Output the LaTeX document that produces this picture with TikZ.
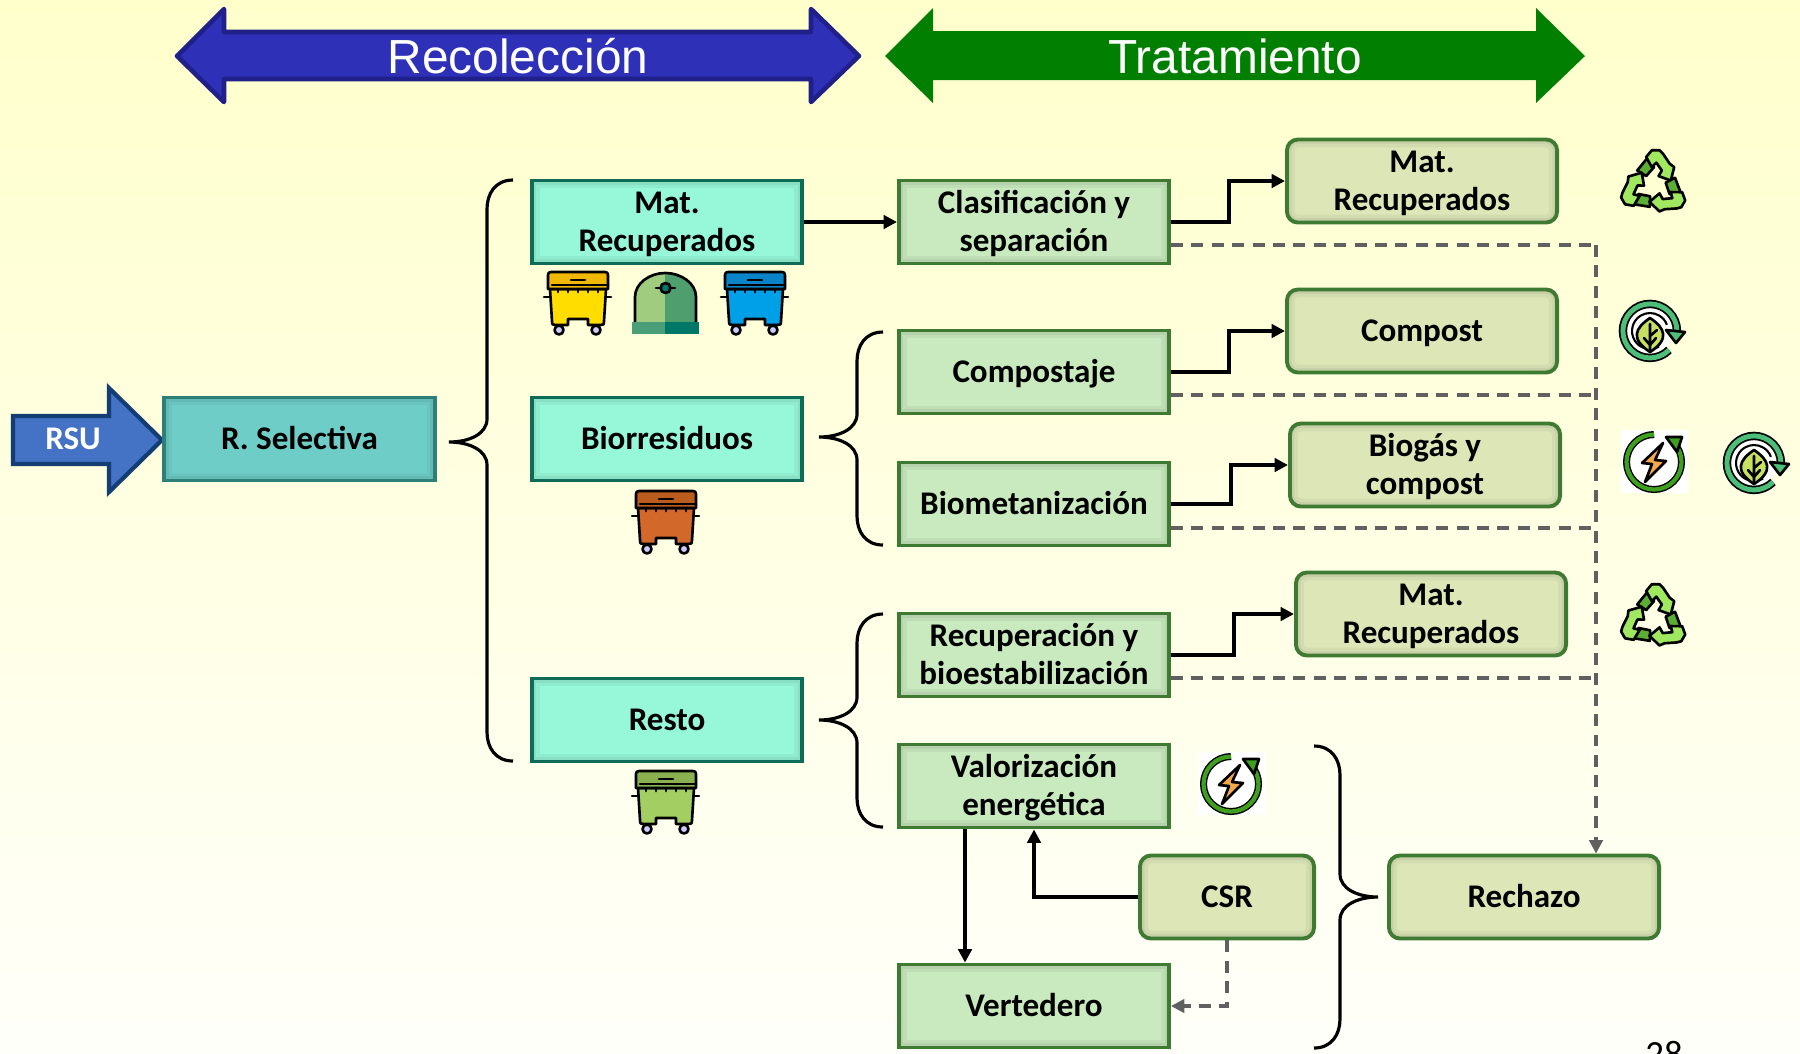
\documentclass[tikz,border=0pt]{standalone}
\usepackage{fontspec}
\setmainfont{Carlito}
\newfontfamily\titlefont{Liberation Sans}
\usetikzlibrary{arrows.meta}
\definecolor{bgtop}{HTML}{FFFFCC}
\definecolor{bgbot}{HTML}{FFFFFA}
\definecolor{tealfill}{HTML}{96F7D9}
\definecolor{tealline}{HTML}{0E6B55}
\definecolor{selfill}{HTML}{6FCDC8}
\definecolor{selline}{HTML}{2E7F78}
\definecolor{procfill}{HTML}{C9E9BF}
\definecolor{greenline}{HTML}{3F7A32}
\definecolor{resfill}{HTML}{DCE6B7}
\definecolor{dashgray}{HTML}{606060}
\definecolor{rsufill}{HTML}{4472C4}
\definecolor{rsuline}{HTML}{123E73}
\definecolor{recofill}{HTML}{2E30B8}
\definecolor{recoline}{HTML}{20208A}
\definecolor{tratfill}{HTML}{007F00}
\definecolor{iglooleft}{HTML}{A0CC80}
\definecolor{iglooright}{HTML}{4E9E6E}
\definecolor{baseleft}{HTML}{4A9E78}
\definecolor{baseright}{HTML}{007868}
\definecolor{recyclelight}{HTML}{9FE860}
\definecolor{recycledark}{HTML}{5BAE33}
\definecolor{leafring}{HTML}{4CBE78}
\definecolor{leaffill}{HTML}{C8E060}
\definecolor{boltring}{HTML}{3FA020}
\definecolor{boltfill}{HTML}{F5A84A}
\definecolor{binyellow}{HTML}{FFDD00}
\definecolor{binyellowlid}{HTML}{F0B800}
\definecolor{binblue}{HTML}{00A0E8}
\definecolor{binbluelid}{HTML}{0A84C8}
\definecolor{binorange}{HTML}{D2692A}
\definecolor{binorangelid}{HTML}{B95C1E}
\definecolor{bingreen}{HTML}{A3CF62}
\definecolor{bingreenlid}{HTML}{8BB04F}
\newcommand{\curlypath}[4]{
	\draw[line width=0.9pt] (#1) .. controls +({#2*18},0) and +(0,15) .. ++({#2*26},-29) -- ++(0,-#3) .. controls +(0,-15) and +({-#2*20},0) .. ++({#2*38},-23) .. controls +({-#2*20},0) and +(0,15) .. ++({-#2*38},-23) -- ++(0,-#4) .. controls +(0,-15) and +({#2*18},0) .. ++({-#2*26},-29);
}
\tikzset{
	x=0.01cm,y=0.01cm,
	every node/.style={font=\fontsize{9.4}{10.8}\selectfont\bfseries,align=center,inner sep=0pt},
	sizedbox/.style={draw,line width=1.1pt,minimum width=2.7cm,minimum height=0.83cm,text height=5.8pt,text depth=0pt,
		path picture={
			\draw[line width=4.5pt,black,opacity=0.045] (path picture bounding box.south west) rectangle (path picture bounding box.north east);
			\draw[line width=2.5pt,black,opacity=0.05] (path picture bounding box.south west) rectangle (path picture bounding box.north east);
		}},
	twolines/.style={text height=16.6pt},
	collectbox/.style={sizedbox,fill=tealfill,draw=tealline},
	procbox/.style={sizedbox,fill=procfill,draw=greenline},
	resultbox/.style={sizedbox,fill=resfill,draw=greenline,rounded corners=0.11cm},
	solidline/.style={line width=0.95pt,-{Triangle[length=3.8pt,width=3.8pt]}},
	dashline/.style={line width=0.9pt,dashgray,dash pattern=on 3.4pt off 2.4pt},
	dasharrow/.style={dashline,-{Triangle[length=3.8pt,width=3.8pt]}},
	iconline/.style={line width=0.75pt,line join=round,line cap=round},
	pics/wastebin/.style n args={2}{code={
		\draw[iconline] (0,-25) -- (67,-25);
		\draw[iconline,fill=#1] (6,-17) -- (8,-49) .. controls (8,-53) and (9,-53) .. (12,-53) -- (24,-53) -- (24,-47) -- (44,-47) -- (44,-53) -- (56,-53) .. controls (59,-53) and (60,-53) .. (60,-49) -- (62,-17) -- cycle;
		\draw[iconline,fill=#2] (4,-17) -- (4,-3) .. controls (4,-1) and (5,0) .. (7,0) -- (61,0) .. controls (63,0) and (64,-1) .. (64,-3) -- (64,-17) -- cycle;
		\draw[iconline] (8,-13) -- (64,-13) (27,-8) -- (41,-8);
		\foreach \t in {14,24,34,44,54}
		\draw[iconline] (\t,-17) -- (\t,-20);
		\foreach \w in {15,52}
		\draw[iconline,fill=blue!20] (\w,-58) circle (4.5);
	}},
	pics/igloobin/.style={code={
		\fill[iglooleft] (3,-49) -- (3,-24) .. controls (3,-10) and (18,0) .. (33,0) -- (33,-49) -- cycle;
		\fill[iglooright] (64,-49) -- (64,-24) .. controls (64,-10) and (49,0) .. (33,0) -- (33,-49) -- cycle;
		\draw[iconline] (3,-49) -- (3,-24) .. controls (3,-10) and (18,0) .. (33,0) .. controls (49,0) and (64,-10) .. (64,-24) -- (64,-49);
		\fill[baseleft] (0,-49) rectangle (33,-61);
		\fill[baseright] (33,-49) rectangle (67,-61);
		\draw[iconline] (24,-15) -- (43,-15);
		\draw[iconline,fill=baseright] (33.5,-15) circle (5);
	}},
	pics/recycleicon/.style={code={
		\foreach \a in {0,120,240}
		{
			\draw[iconline,fill=recycledark,rotate=\a,scale=1.12] (-15,13) -- (-6,24) -- (0,16) -- (-7,8) -- cycle;
			\draw[iconline,fill=recyclelight,rotate=\a,scale=1.12] (-7,25) -- (-2,31) -- (5,31) -- (8,28) -- (14,19) -- (18,16) -- (15,4) -- (4,8) -- (7,13) -- (2,20) -- (-2,16) -- cycle;
		}
	}},
	pics/leaficon/.style={code={
		\fill[white] (0,0) circle (23);
		\draw[line width=2.4pt] (19,-19) arc[start angle=-45,end angle=-360,radius=27];
		\draw[line width=1.4pt,leafring] (19,-19) arc[start angle=-45,end angle=-360,radius=27];
		\draw[iconline,fill=leafring] (16,1) -- (35,-1) -- (26,-12) -- cycle;
		\draw[line width=0.6pt] (9,-15.6) arc[start angle=-60,end angle=-340,radius=18];
		\draw[iconline,fill=leaffill] (0,-21) .. controls (-20,-8) and (-15,3) .. (0,13) .. controls (15,3) and (20,-8) .. (0,-21) -- cycle;
		\draw[iconline] (0,7) -- (0,-21) (0,-14) -- (-6,-7) (0,-14) -- (6,-7) (0,-5) -- (7,1);
	}},
	pics/bolticon/.style={code={
		\fill[white] (-33,-31) rectangle (34,32);
		\draw[line width=2pt] (0,27.5) arc[start angle=90,end angle=405,radius=27.5];
		\draw[line width=1.2pt,boltring] (0,27.5) arc[start angle=90,end angle=405,radius=27.5];
		\draw[iconline,fill=boltring] (12,25) -- (28,25) -- (23,10) -- cycle;
		\draw[iconline,fill=boltfill] (9,19) -- (-12,-1) -- (-2,-2) -- (-9,-20) -- (12,1) -- (1,2) -- cycle;
	}}
}
\begin{document}
\begin{tikzpicture}
	\clip (0,0) rectangle (1800,-1053);
	\shade[top color=bgtop,bottom color=bgbot] (0,0) rectangle (1800,-1053);

	\draw[line width=1.3pt,fill=recofill,draw=recoline,line join=round] (177,-56) -- (224,-9) -- (224,-32) -- (811,-32) -- (811,-9) -- (859,-56) -- (811,-102) -- (811,-79) -- (224,-79) -- (224,-102) -- cycle;
	\fill[tratfill,line join=round] (885,-56) -- (933,-8) -- (933,-31) -- (1536,-31) -- (1536,-8) -- (1585,-56) -- (1536,-103) -- (1536,-80) -- (933,-80) -- (933,-103) -- cycle;
	\node[text=white,font=\titlefont\fontsize{13.6}{15}\selectfont] (recoleccion) at (518,-56) {Recolección};
	\node[text=white,font=\titlefont\fontsize{13.6}{15}\selectfont] (tratamiento) at (1235,-56) {Tratamiento};

	\draw[line width=1.2pt,fill=rsufill,draw=rsuline,line join=miter] (13,-416) -- (109,-416) -- (109,-388) -- (162,-440) -- (109,-492) -- (109,-464) -- (13,-464) -- cycle;
	\node[text=white] (rsu) at (73,-439) {RSU};

	\node[sizedbox,fill=selfill,draw=selline] (selectiva) at (299.5,-439) {R. Selectiva};
	\node[collectbox,twolines] (matrec) at (667,-222) {Mat.\\Recuperados};
	\node[collectbox] (biorres) at (667,-439) {Biorresiduos};
	\node[collectbox] (resto) at (667,-720) {Resto};

	\node[procbox,twolines] (clasif) at (1034,-222) {Clasificación y\\separación};
	\node[procbox] (compostaje) at (1034,-372) {Compostaje};
	\node[procbox] (biomet) at (1034,-504) {Biometanización};
	\node[procbox,twolines] (recup) at (1034,-655) {Recuperación y\\bioestabilización};
	\node[procbox,twolines] (valor) at (1034,-786) {Valorización\\energética};
	\node[procbox] (vertedero) at (1034,-1006) {Vertedero};

	\node[resultbox,twolines] (matout) at (1422,-181) {Mat.\\Recuperados};
	\node[resultbox] (compost) at (1422,-331) {Compost};
	\node[resultbox,twolines] (biogas) at (1425,-465) {Biogás y\\compost};
	\node[resultbox,twolines] (matoutb) at (1431,-614) {Mat.\\Recuperados};
	\node[resultbox,minimum width=1.74cm] (csr) at (1227,-897) {CSR};
	\node[resultbox] (rechazo) at (1524,-897) {Rechazo};

	\node[font=\fontsize{10.5}{12}\selectfont\mdseries,anchor=base,text height=0pt] (pagenum) at (1664,-1066) {28};

	\coordinate (maintop) at (513,-180);
	\coordinate (biotop) at (883,-332);
	\coordinate (restotop) at (883,-614);
	\coordinate (rejtop) at (1314,-746);
	\curlypath{maintop}{-1}{210}{267}
	\curlypath{biotop}{-1}{53}{56}
	\curlypath{restotop}{-1}{54}{55}
	\curlypath{rejtop}{1}{99}{99}

	\draw[solidline] (matrec) -- (clasif);
	\draw[solidline] (clasif.east) -- +(58,0) |- (matout.west);
	\draw[solidline] (compostaje.east) -- +(58,0) |- (compost.west);
	\draw[solidline] (biomet.east) -- +(60,0) |- (biogas.west);
	\draw[solidline] (recup.east) -- +(63,0) |- (matoutb.west);
	\draw[solidline] (csr.west) -| (valor.south);
	\draw[solidline] (valor.south) ++(-69,0) coordinate (valorleft) -- (valorleft |- vertedero.north);

	\coordinate (dropa) at (1596,-245);
	\coordinate (dropb) at (1596,-395);
	\coordinate (dropc) at (1596,-528);
	\coordinate (dropd) at (1596,-678);
	\draw[dashline] (dropa -| clasif.east) -- (dropa);
	\draw[dashline] (dropb -| compostaje.east) -- (dropb);
	\draw[dashline] (dropc -| biomet.east) -- (dropc);
	\draw[dashline] (dropd -| recup.east) -- (dropd);
	\draw[dasharrow] (dropa) -- (dropa |- rechazo.north);
	\draw[dasharrow] (csr.south) |- (vertedero.east);

	\pic at (544,-272) {wastebin={binyellow}{binyellowlid}};
	\pic at (632,-273) {igloobin};
	\pic at (721,-272) {wastebin={binblue}{binbluelid}};
	\pic at (632,-491) {wastebin={binorange}{binorangelid}};
	\pic at (632,-771) {wastebin={bingreen}{bingreenlid}};

	\pic at (1654,-185) {recycleicon};
	\pic at (1654,-619) {recycleicon};
	\pic at (1650,-331) {leaficon};
	\pic at (1754,-463) {leaficon};
	\pic at (1654,-462) {bolticon};
	\pic at (1231,-784) {bolticon};
\end{tikzpicture}
\end{document}
